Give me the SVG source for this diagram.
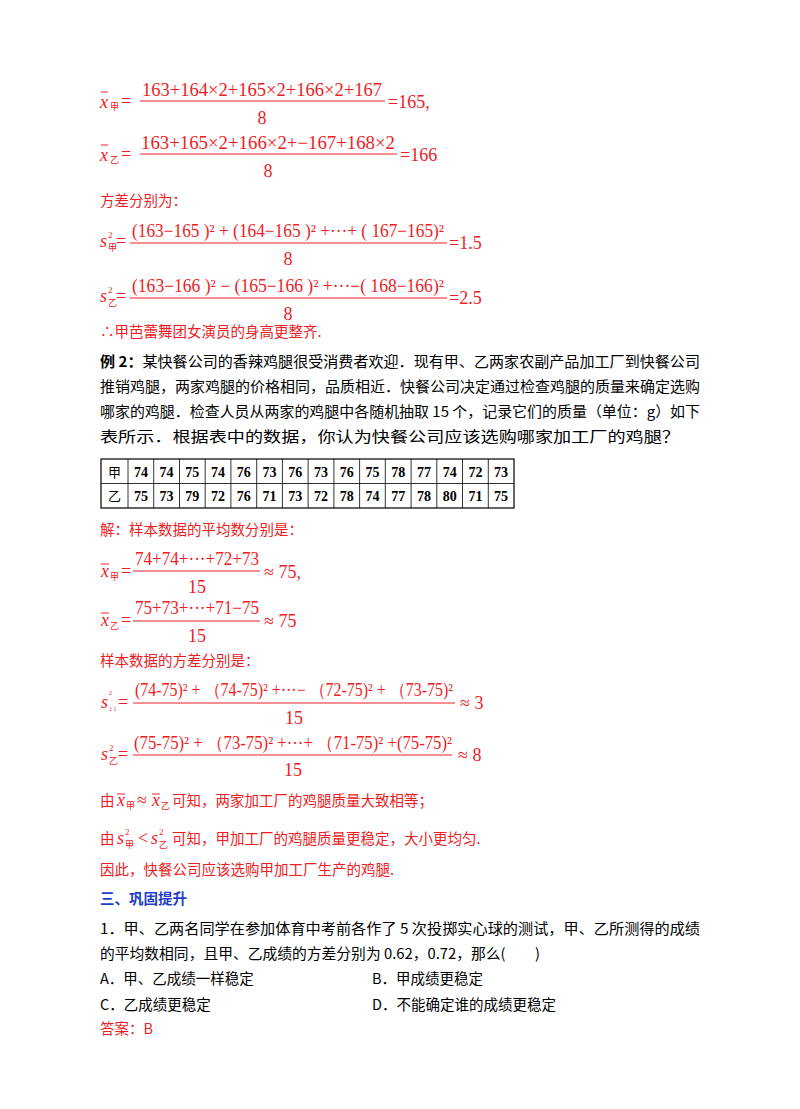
<svg xmlns="http://www.w3.org/2000/svg" width="800" height="1109" viewBox="0 0 800 1109">
<style>
text{font-family:"Liberation Serif","Times New Roman",serif}
.r{fill:#ee1c25}
.k{fill:#000}
.cj{font-family:"Noto Sans CJK SC",sans-serif;font-size:14.5px}
.f{font-size:18px}
.m{text-anchor:middle}
.i{font-style:italic}
.sb{font-size:9px}
.tiny{font-size:6px}
.fl{stroke:#ee1c25;stroke-width:1}
.t line{stroke:#000;stroke-width:0.8}
.tb{font-weight:bold;font-size:14px;text-anchor:middle}
.tc{font-size:13px;text-anchor:middle}
</style>
<rect width="800" height="1109" fill="#fff"/>
<g id="mean1">
<text x="100" y="108" class="i r f">x</text><line x1="101" y1="92" x2="108" y2="92" class="fl" stroke-width="1.5"/><text x="110" y="110" class="r sb cj">甲</text>
<text x="121" y="107" class="r f">=</text>
<text x="262" y="96" class="m r f" textLength="240" lengthAdjust="spacingAndGlyphs">163+164×2+165×2+166×2+167</text>
<line x1="140" y1="101" x2="385" y2="101" class="fl"/>
<text x="262" y="124" class="m r f">8</text>
<text x="388" y="108" class="r f">=165,</text>
</g>
<g id="mean2">
<text x="100" y="161" class="i r f">x</text><line x1="101" y1="145" x2="108" y2="145" class="fl" stroke-width="1.5"/><text x="110" y="163" class="r sb cj">乙</text>
<text x="121" y="160" class="r f">=</text>
<text x="268" y="149" class="m r f" textLength="254" lengthAdjust="spacingAndGlyphs">163+165×2+166×2+−167+168×2</text>
<line x1="140" y1="154" x2="397" y2="154" class="fl"/>
<text x="268" y="177" class="m r f">8</text>
<text x="400" y="161" class="r f">=166</text>
</g>
<text x="100" y="206" class="r cj">方差分别为：</text>
<g id="var1">
<text x="100" y="247" class="i r f">s</text><text x="108" y="238" class="r sb">2</text><text x="108" y="251" class="r sb cj">甲</text>
<text x="116" y="247" class="r f">=</text>
<text x="288" y="237" class="m r f" textLength="312" lengthAdjust="spacingAndGlyphs">(163−165 )² + (164−165 )² +···+ ( 167−165)²</text>
<line x1="130" y1="243" x2="447" y2="243" class="fl"/>
<text x="288" y="265" class="m r f">8</text>
<text x="449" y="249" class="r f">=1.5</text>
</g>
<g id="var2">
<text x="100" y="302" class="i r f">s</text><text x="108" y="293" class="r sb">2</text><text x="108" y="306" class="r sb cj">乙</text>
<text x="116" y="302" class="r f">=</text>
<text x="288" y="292" class="m r f" textLength="312" lengthAdjust="spacingAndGlyphs">(163−166 )² − (165−166 )² +···−( 168−166)²</text>
<line x1="130" y1="298" x2="447" y2="298" class="fl"/>
<text x="288" y="320" class="m r f">8</text>
<text x="449" y="304" class="r f">=2.5</text>
</g>
<text x="100" y="337" class="r cj">∴甲芭蕾舞团女演员的身高更整齐.</text>
<g id="ex2" class="k">
<text x="100" y="367" class="cj k" textLength="600" lengthAdjust="spacingAndGlyphs"><tspan font-weight="bold">例 2：</tspan>某快餐公司的香辣鸡腿很受消费者欢迎．现有甲、乙两家农副产品加工厂到快餐公司</text>
<text x="100" y="392" class="cj k" textLength="600" lengthAdjust="spacingAndGlyphs">推销鸡腿，两家鸡腿的价格相同，品质相近．快餐公司决定通过检查鸡腿的质量来确定选购</text>
<text x="100" y="417" class="cj k" textLength="600" lengthAdjust="spacingAndGlyphs">哪家的鸡腿．检查人员从两家的鸡腿中各随机抽取 15 个，记录它们的质量（单位：g）如下</text>
<text x="100" y="442" class="cj k" textLength="580" lengthAdjust="spacingAndGlyphs">表所示．根据表中的数据，你认为快餐公司应该选购哪家加工厂的鸡腿？</text>
</g>
<g id="table" class="t">
<rect x="101" y="459" width="413" height="49" fill="none" stroke="#000" stroke-width="1.2"/>
<line x1="101" y1="483.5" x2="514" y2="483.5"/>
<line x1="128" y1="459" x2="128" y2="508"/><line x1="153.7" y1="459" x2="153.7" y2="508"/><line x1="179.5" y1="459" x2="179.5" y2="508"/><line x1="205.2" y1="459" x2="205.2" y2="508"/><line x1="230.9" y1="459" x2="230.9" y2="508"/><line x1="256.7" y1="459" x2="256.7" y2="508"/><line x1="282.4" y1="459" x2="282.4" y2="508"/><line x1="308.1" y1="459" x2="308.1" y2="508"/><line x1="333.9" y1="459" x2="333.9" y2="508"/><line x1="359.6" y1="459" x2="359.6" y2="508"/><line x1="385.3" y1="459" x2="385.3" y2="508"/><line x1="411.1" y1="459" x2="411.1" y2="508"/><line x1="436.8" y1="459" x2="436.8" y2="508"/><line x1="462.5" y1="459" x2="462.5" y2="508"/><line x1="488.3" y1="459" x2="488.3" y2="508"/>
<text x="114.5" y="477" class="cj tc">甲</text>
<text x="114.5" y="501" class="cj tc">乙</text>
<text y="477" class="tb"><tspan x="140.9">74</tspan><tspan x="166.6">74</tspan><tspan x="192.3">75</tspan><tspan x="218.1">74</tspan><tspan x="243.8">76</tspan><tspan x="269.5">73</tspan><tspan x="295.3">76</tspan><tspan x="321">73</tspan><tspan x="346.7">76</tspan><tspan x="372.5">75</tspan><tspan x="398.2">78</tspan><tspan x="423.9">77</tspan><tspan x="449.7">74</tspan><tspan x="475.4">72</tspan><tspan x="501.1">73</tspan></text>
<text y="501" class="tb"><tspan x="140.9">75</tspan><tspan x="166.6">73</tspan><tspan x="192.3">79</tspan><tspan x="218.1">72</tspan><tspan x="243.8">76</tspan><tspan x="269.5">71</tspan><tspan x="295.3">73</tspan><tspan x="321">72</tspan><tspan x="346.7">78</tspan><tspan x="372.5">74</tspan><tspan x="398.2">77</tspan><tspan x="423.9">78</tspan><tspan x="449.7">80</tspan><tspan x="475.4">71</tspan><tspan x="501.1">75</tspan></text>
</g>
<text x="100" y="535" class="r cj">解：样本数据的平均数分别是：</text>
<g id="m3">
<text x="101" y="577" class="i r f">x</text><line x1="101" y1="564" x2="109" y2="564" class="fl"/><text x="110" y="580" class="r sb cj">甲</text>
<text x="121" y="577" class="r f">=</text>
<text x="197" y="565" class="m r f" textLength="124" lengthAdjust="spacingAndGlyphs">74+74+···+72+73</text>
<line x1="133" y1="571" x2="260" y2="571" class="fl"/>
<text x="197" y="593" class="m r f">15</text>
<text x="264" y="578" class="r f">≈ 75,</text>
</g>
<g id="m4">
<text x="101" y="626" class="i r f">x</text><line x1="101" y1="613" x2="109" y2="613" class="fl"/><text x="110" y="629" class="r sb cj">乙</text>
<text x="121" y="626" class="r f">=</text>
<text x="197" y="614" class="m r f" textLength="124" lengthAdjust="spacingAndGlyphs">75+73+···+71−75</text>
<line x1="133" y1="621" x2="260" y2="621" class="fl"/>
<text x="197" y="642" class="m r f">15</text>
<text x="264" y="627" class="r f">≈ 75</text>
</g>
<text x="100" y="666" class="r cj">样本数据的方差分别是：</text>
<g id="v3">
<text x="101" y="708" class="i r f">s</text><text x="109" y="695" class="r tiny">2</text><text x="109" y="711" class="r tiny">1 1</text>
<text x="118" y="708" class="r f">=</text>
<text x="294" y="696" class="m r f" textLength="318" lengthAdjust="spacingAndGlyphs">(74-75)² + （74-75)² +···− （72-75)² + （73-75)²</text>
<line x1="133" y1="703" x2="455" y2="703" class="fl"/>
<text x="294" y="724" class="m r f">15</text>
<text x="460" y="709" class="r f">≈ 3</text>
</g>
<g id="v4">
<text x="101" y="760" class="i r f">s</text><text x="109" y="751" class="r sb">2</text><text x="109" y="764" class="r sb cj">乙</text>
<text x="118" y="760" class="r f">=</text>
<text x="293" y="749" class="m r f" textLength="318" lengthAdjust="spacingAndGlyphs">(75-75)² + （73-75)² +···+ （71-75)² +(75-75)²</text>
<line x1="133" y1="755" x2="452" y2="755" class="fl"/>
<text x="293" y="776" class="m r f">15</text>
<text x="458" y="761" class="r f">≈ 8</text>
</g>
<g id="c1">
<text x="100" y="806" class="r cj">由</text>
<text x="117" y="806" class="i r f">x</text><line x1="117" y1="794" x2="125" y2="794" class="fl"/><text x="126" y="809" class="r sb cj">甲</text>
<text x="137" y="806" class="r f">≈</text>
<text x="152" y="806" class="i r f">x</text><line x1="152" y1="794" x2="160" y2="794" class="fl"/><text x="161" y="809" class="r sb cj">乙</text>
<text x="172" y="806" class="r cj">可知，两家加工厂的鸡腿质量大致相等；</text>
</g>
<g id="c2">
<text x="100" y="844" class="r cj">由</text>
<text x="117" y="844" class="i r f">s</text><text x="125" y="835" class="r sb">2</text><text x="125" y="848" class="r sb cj">甲</text>
<text x="138" y="844" class="r f">&lt;</text>
<text x="151" y="844" class="i r f">s</text><text x="159" y="835" class="r sb">2</text><text x="159" y="848" class="r sb cj">乙</text>
<text x="172" y="844" class="r cj">可知，甲加工厂的鸡腿质量更稳定，大小更均匀.</text>
</g>
<text x="100" y="875" class="r cj">因此，快餐公司应该选购甲加工厂生产的鸡腿.</text>
<text x="100" y="904" class="cj" fill="#1f3ec8" font-weight="bold">三、巩固提升</text>
<g id="q1">
<text x="100" y="934" class="k cj" textLength="600" lengthAdjust="spacingAndGlyphs">1．甲、乙两名同学在参加体育中考前各作了 5 次投掷实心球的测试，甲、乙所测得的成绩</text>
<text x="100" y="959" class="k cj" textLength="440" lengthAdjust="spacingAndGlyphs">的平均数相同，且甲、乙成绩的方差分别为 0.62，0.72，那么(　　)</text>
<text x="100" y="984" class="k cj">A．甲、乙成绩一样稳定</text>
<text x="372" y="984" class="k cj">B．甲成绩更稳定</text>
<text x="100" y="1010" class="k cj">C．乙成绩更稳定</text>
<text x="372" y="1010" class="k cj">D．不能确定谁的成绩更稳定</text>
</g>
<text x="100" y="1034" class="r cj">答案：B</text>
</svg>
